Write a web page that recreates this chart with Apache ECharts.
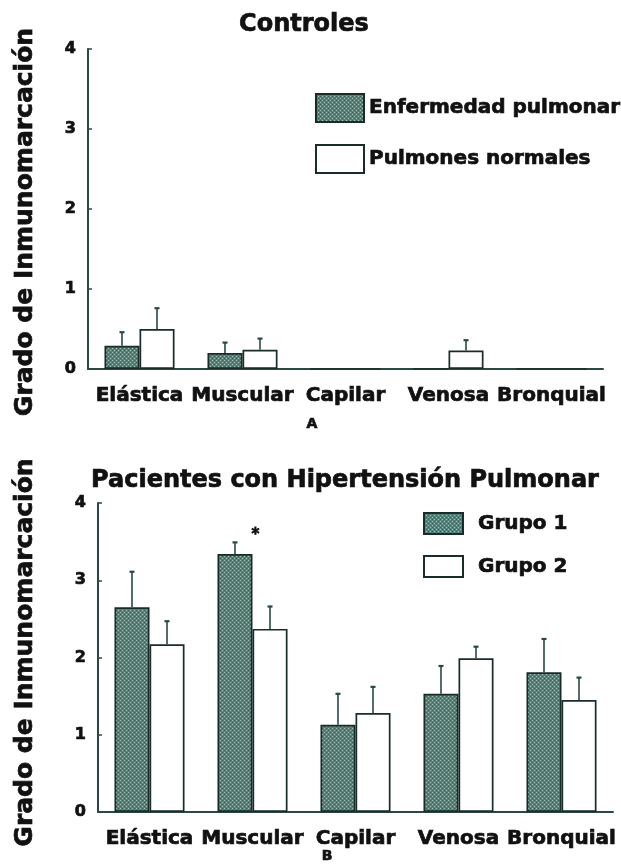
<!DOCTYPE html>
<html><head><meta charset="utf-8">
<script src="https://cdn.jsdelivr.net/npm/echarts@6/dist/echarts.min.js"></script>
<style>html,body{margin:0;padding:0;background:#fff}#c{width:621px;height:865px}</style>
</head><body><div id="c"></div>
<script>
// ---- data ----
const categories = ['Elástica', 'Muscular', 'Capilar', 'Venosa', 'Bronquial'];
const yTickValues = [0, 1, 2, 3, 4];
const yName = 'Grado de Inmunomarcación';

const ctrlTitle = 'Controles';
const ctrlNames = ['Enfermedad pulmonar', 'Pulmones normales'];
const ctrlDisease = [0.29, 0.20, 0, 0, 0];
const ctrlDiseaseErr = [0.17, 0.13, 0, 0, 0];
const ctrlNormal = [0.50, 0.24, 0, 0.23, 0];
const ctrlNormalErr = [0.26, 0.14, 0, 0.13, 0];

const hpTitle = 'Pacientes con Hipertensión Pulmonar';
const hpNames = ['Grupo 1', 'Grupo 2'];
const group1 = [2.65, 3.34, 1.13, 1.53, 1.81];
const group1Err = [0.46, 0.15, 0.40, 0.36, 0.43];
const group2 = [2.17, 2.37, 1.28, 1.99, 1.45];
const group2Err = [0.30, 0.29, 0.34, 0.15, 0.29];
const group1Sig = ['', '*', '', '', ''];

const panelTags = ['A', 'B'];

// ---- styles ----
const FONT = 'DejaVu Sans';
const AXIS = '#2b4944';
const EDGE = '#1a2c28';
const GAP = 0.32;

function makePattern() {
  const c = document.createElement('canvas');
  c.width = 4; c.height = 4;
  const g = c.getContext('2d');
  g.fillStyle = '#55827a'; g.fillRect(0, 0, 4, 4);
  g.fillStyle = '#a3c0b9';
  [[0, 0], [2, 2]].forEach(p => g.fillRect(p[0], p[1], 1, 1));
  g.fillStyle = '#3a6158';
  [[2, 0], [0, 2]].forEach(p => g.fillRect(p[0], p[1], 1, 1));
  return c;
}
const hatch = { image: makePattern(), repeat: 'repeat' };

function barSeries(name, idx, vals, filled) {
  return {
    name, type: 'bar', xAxisIndex: idx, yAxisIndex: idx,
    data: vals, barGap: '0%', barCategoryGap: (GAP * 100) + '%',
    itemStyle: { color: filled ? hatch : '#ffffff', borderColor: EDGE, borderWidth: 1.7 },
    emphasis: { disabled: true }
  };
}

function errSeries(idx, vals, errs, side, sig) {
  return {
    type: 'custom', xAxisIndex: idx, yAxisIndex: idx, z: 5, silent: true,
    data: vals.map((v, i) => [i, v, errs[i]]),
    renderItem(params, api) {
      const i = api.value(0), v = api.value(1), e = api.value(2);
      const band = api.size([1, 0])[0];
      const bw = band * (1 - GAP) / 2;
      const p0 = api.coord([i, v]);
      const p1 = api.coord([i, v + e]);
      const x = p0[0] + (side < 0 ? -bw / 2 : bw / 2);
      const children = [];
      if (e > 0) {
        children.push({ type: 'line', shape: { x1: x, y1: p0[1], x2: x, y2: p1[1] }, style: { stroke: AXIS, lineWidth: 1.6 } });
        children.push({ type: 'line', shape: { x1: x - 2.5, y1: p1[1], x2: x + 2.5, y2: p1[1] }, style: { stroke: AXIS, lineWidth: 2.2 } });
      }
      const s = sig ? sig[params.dataIndex] : '';
      if (s) {
        children.push({ type: 'text', style: { text: s, x: p0[0] + 3, y: p1[1] - 15, align: 'center', verticalAlign: 'top', font: 'bold 15px ' + FONT, fill: '#111', stroke: '#111', lineWidth: 0.8 } });
      }
      return { type: 'group', children };
    }
  };
}

const heavy = { textBorderColor: '#111', textBorderWidth: 0.7 };
const tStyle = (size) => Object.assign({ fontFamily: FONT, fontWeight: 'bold', fontSize: size, color: '#111' }, heavy);

function yAxis(idx, gap, pad) {
  return {
    gridIndex: idx, type: 'value', min: yTickValues[0], max: yTickValues[yTickValues.length - 1], interval: 1,
    name: yName, nameLocation: 'middle', nameRotate: 90, nameGap: gap,
    nameTextStyle: Object.assign(tStyle(25), { padding: pad }),
    axisLine: { show: true, lineStyle: { color: AXIS, width: 2 } },
    axisTick: { show: true, inside: true, length: 4, lineStyle: { color: AXIS, width: 1.5 } },
    splitLine: { show: false },
    axisLabel: Object.assign(tStyle(16), { margin: 12 })
  };
}
function xAxis(idx) {
  return {
    gridIndex: idx, type: 'category', data: categories,
    axisLine: { show: true, lineStyle: { color: AXIS, width: 2 } },
    axisTick: { show: false },
    axisLabel: Object.assign(tStyle(20), { interval: 0, margin: 17 })
  };
}

const chart = echarts.init(document.getElementById('c'), null, { renderer: 'canvas' });
chart.setOption({
  animation: false,
  backgroundColor: '#ffffff',
  title: [
    { text: ctrlTitle, left: 304, top: 13, textAlign: 'center', padding: 0, textStyle: tStyle(24) },
    { text: hpTitle, left: 345, top: 469, textAlign: 'center', padding: 0, textStyle: tStyle(24) },
    { text: panelTags[0], left: 312, top: 417, textAlign: 'center', padding: 0, textStyle: tStyle(14) },
    { text: panelTags[1], left: 327, top: 849, textAlign: 'center', padding: 0, textStyle: tStyle(14) }
  ],
  legend: [
    { data: ctrlNames, orient: 'vertical', left: 315, top: 93, padding: 0, icon: 'rect',
      itemWidth: 48, itemHeight: 28, itemGap: 21, textStyle: tStyle(20), selectedMode: false },
    { data: hpNames, orient: 'vertical', left: 423, top: 512, padding: 0, icon: 'rect',
      itemWidth: 39, itemHeight: 21, itemGap: 20, textStyle: Object.assign(tStyle(20), { padding: [0, 0, 0, 10] }), selectedMode: false }
  ],
  grid: [
    { left: 88, top: 49, width: 515, height: 320 },
    { left: 98, top: 503, width: 515, height: 309 }
  ],
  xAxis: [xAxis(0), xAxis(1)],
  yAxis: [yAxis(0, 50, [0, 26, 0, 0]), yAxis(1, 60, [0, 0, 0, 10])],
  series: [
    barSeries(ctrlNames[0], 0, ctrlDisease, true),
    barSeries(ctrlNames[1], 0, ctrlNormal, false),
    errSeries(0, ctrlDisease, ctrlDiseaseErr, -1),
    errSeries(0, ctrlNormal, ctrlNormalErr, 1),
    barSeries(hpNames[0], 1, group1, true),
    barSeries(hpNames[1], 1, group2, false),
    errSeries(1, group1, group1Err, -1, group1Sig),
    errSeries(1, group2, group2Err, 1)
  ]
});
</script>
</body></html>
